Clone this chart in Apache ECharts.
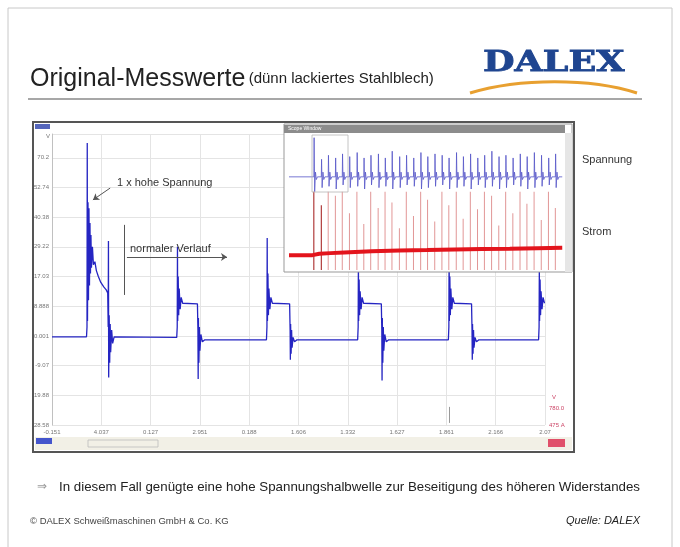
<!DOCTYPE html>
<html><head><meta charset="utf-8">
<script src="https://cdn.jsdelivr.net/npm/echarts@6/dist/echarts.min.js"></script>
<style>html,body{margin:0;padding:0;background:#fff}#c{width:680px;height:547px}</style>
</head><body><div id="c"></div>
<script>
// ---- tick labels (oscilloscope screen, main window) ----
const xTickLabels = ["-0.151","4.037","0.127","2.951","0.188","1.606","1.332","1.627","1.861","2.166","2.07"];
const yTickLabels = ["-28.58","-19.88","-9.07","0.001","8.888","17.03","29.22","40.38","52.74","70.2"]; // divisions -3..6

// ---- main voltage trace (time in divisions, voltage in divisions) ----
const mainT = [0,0.70,0.71,0.715,0.72,0.73,0.74,0.75,0.76,0.77,0.78,0.79,0.80,0.82,0.84,0.87,0.90,0.94,0.99,1.05,1.10,1.13,1.14,1.145,1.15,1.16,1.17,1.18,1.19,1.21,1.23,1.26,
  2.53,2.54,2.545,2.55,2.56,2.57,2.58,2.60,2.62,2.65,2.95,2.96,2.965,2.97,2.98,2.99,3.00,3.02,3.05,3.10,
  4.35,4.36,4.365,4.37,4.38,4.39,4.40,4.42,4.44,4.47,4.82,4.83,4.835,4.84,4.85,4.86,4.87,4.89,4.92,4.97,
  6.20,6.21,6.215,6.22,6.23,6.24,6.25,6.27,6.29,6.32,6.68,6.69,6.695,6.70,6.71,6.72,6.73,6.75,6.78,6.83,
  8.04,8.05,8.055,8.06,8.07,8.08,8.09,8.11,8.13,8.16,8.51,8.52,8.525,8.53,8.54,8.55,8.56,8.58,8.61,8.66,
  9.87,9.88,9.885,9.89,9.90,9.91,9.92,9.94,9.96,9.99,10.0];
const mainV = [-0.03,-0.03,0.3,6.5,0.5,4.5,1.2,4.3,1.7,3.8,2.1,3.4,2.3,3.0,2.4,2.5,2.2,2.0,1.8,1.65,1.55,1.45,0.3,3.2,-1.4,0.7,-0.9,0.4,-0.55,0.2,-0.25,-0.03,
  -0.05,0.3,3.0,0.5,2.0,0.7,1.6,0.9,1.3,1.1,1.08,0.2,-1.45,0.6,-0.9,0.3,-0.5,0.05,-0.2,-0.13,
  -0.13,0.3,3.3,0.5,2.1,0.7,1.6,0.9,1.3,1.1,1.08,0.2,-0.8,0.4,-0.6,0.2,-0.4,-0.05,-0.2,-0.13,
  -0.13,0.3,2.6,0.5,1.9,0.7,1.5,0.9,1.3,1.1,1.08,0.2,-1.5,0.6,-0.9,0.3,-0.5,0.05,-0.2,-0.13,
  -0.13,0.3,3.1,0.5,2.0,0.7,1.6,0.9,1.3,1.1,1.08,0.2,-0.8,0.4,-0.6,0.2,-0.4,-0.05,-0.2,-0.13,
  -0.13,0.3,2.3,0.5,1.9,0.7,1.5,0.9,1.3,1.1,1.1];

// ---- inset (scope window): voltage spikes and current ----
const insetT   = [9.0,11.7,14.2,16.8,19.3,21.9,24.6,27.1,29.6,32.3,34.8,37.3,40.0,42.5,45.1,47.7,50.2,52.8,55.4,57.9,60.6,63.1,65.7,68.3,70.8,73.4,76.0,78.5,81.1,83.7,86.2,88.8,91.4,94.0,96.5];
const insetTop = [9.8,8.2,8.5,8.3,8.6,8.4,8.7,8.3,8.5,8.6,8.3,8.8,8.4,8.5,8.3,8.7,8.4,8.6,8.5,8.3,8.7,8.4,8.6,8.3,8.5,8.8,8.4,8.5,8.3,8.6,8.4,8.7,8.5,8.3,8.6];
const insetLow = [5.8,6.1,6.2,6.0,6.3,6.1,6.2,6.0,6.3,6.1,6.2,6.0,6.1,6.3,6.2,6.0,6.1,6.2,6.3,6.0,6.1,6.2,6.0,6.3,6.1,6.2,6.0,6.1,6.3,6.2,6.0,6.1,6.2,6.3,6.1];
const insetBase = 6.9;
const insetCurTop = [5.8,4.8,5.8,5.5,5.8,4.2,5.8,3.4,5.8,4.6,5.8,5.0,3.1,5.8,4.0,5.8,5.2,3.6,5.8,4.8,5.8,3.8,5.8,4.5,5.8,5.5,3.3,5.8,4.2,5.8,4.9,5.8,3.7,5.8,4.6];
const curT = [0,8.5,9.2,11,15,20,30,40,50,60,70,80,90,99];
const curV = [1.1,1.1,1.0,1.2,1.25,1.3,1.38,1.45,1.48,1.52,1.55,1.58,1.62,1.65];

// ---- build series data ----
const mainData = mainT.map((t,i)=>[t, mainV[i]]);
const insetVolt = [[0, insetBase]];
insetT.forEach((t,i)=>{
  insetVolt.push([t, insetBase],[t+0.1, insetTop[i]],[t+0.3, insetLow[i]],[t+0.6, insetBase+0.35],[t+0.9, insetBase-0.2],[t+1.3, insetBase]);
});
insetVolt.push([99, insetBase]);
const insetBars = insetT.map((t,i)=> i<2 ? {value:[t, insetCurTop[i]], itemStyle:{color:'#a01515'}} : [t, insetCurTop[i]]);
const curData = curT.map((t,i)=>[t, curV[i]]);

const chart = echarts.init(document.getElementById('c'), null, {renderer:'canvas'});
const F = '"Liberation Sans", Arial, sans-serif';
const txt = (text, x, y, size, fill, extra) => ({type:'text', z:30, style:Object.assign({text, x, y, font: size+'px '+F, fill, textVerticalAlign:'middle'}, extra||{})});

chart.setOption({
  animation:false,
  grid:[
    {left:52, top:134, width:493, height:291, show:false},
    {left:289, top:135, width:276, height:135, show:false, z:15}
  ],
  xAxis:[
    {type:'value', gridIndex:0, min:0, max:10, interval:1,
     axisLine:{show:false}, axisTick:{show:false},
     splitLine:{show:true, lineStyle:{color:'#e4e4e4', width:1}},
     axisLabel:{formatter:v=>xTickLabels[Math.round(v)]||'', fontSize:6, color:'#777', margin:4, fontFamily:F}},
    {type:'value', gridIndex:1, min:0, max:100, show:false}
  ],
  yAxis:[
    {type:'value', gridIndex:0, min:-3, max:6.8, interval:1,
     axisLine:{show:true, lineStyle:{color:'#c0c0c0'}}, axisTick:{show:false},
     splitLine:{show:true, lineStyle:{color:'#e4e4e4', width:1}},
     axisLabel:{formatter:v=>{const s=yTickLabels[Math.round(v)+3]; return (Math.abs(v-Math.round(v))<1e-6 && s)? s : '';}, fontSize:6, color:'#777', margin:3, fontFamily:F}},
    {type:'value', gridIndex:1, min:0, max:10, show:false}
  ],
  series:[
    {type:'line', name:'Spannung', xAxisIndex:0, yAxisIndex:0, data:mainData, showSymbol:false, z:2,
     lineStyle:{color:'#2525c2', width:1.3},
     markLine:{silent:true, animation:false, label:{show:false}, symbolSize:6,
       lineStyle:{color:'#555', width:1, type:'solid'},
       data:[
         [{coord:[1.18,4.98], symbol:'none'},{coord:[0.83,4.58], symbol:'arrow'}],
         [{coord:[1.46,3.74], symbol:'none'},{coord:[1.46,1.38], symbol:'none'}],
         [{coord:[1.52,2.66], symbol:'none'},{coord:[3.55,2.66], symbol:'arrow'}],
         [{coord:[8.05,-2.39], symbol:'none', lineStyle:{color:'#999'}},{coord:[8.05,-2.93], symbol:'none'}]
       ]}
    },
    {type:'bar', name:'Strom-Impulse', xAxisIndex:1, yAxisIndex:1, data:insetBars, barWidth:1, z:20,
     itemStyle:{color:'rgba(205,80,80,0.6)'}},
    {type:'line', name:'Spannung (Übersicht)', xAxisIndex:1, yAxisIndex:1, data:insetVolt, showSymbol:false, z:21,
     lineStyle:{color:'#5656c8', width:0.8}},
    {type:'line', name:'Strom', xAxisIndex:1, yAxisIndex:1, data:curData, showSymbol:false, z:22,
     lineStyle:{color:'#e3141c', width:4}}
  ],
  graphic:[
    {type:'rect', z:0, shape:{x:8,y:8,width:664,height:600}, style:{fill:'none', stroke:'#c8c8c8', lineWidth:1}},
    {type:'text', z:30, style:{x:30, y:79, textVerticalAlign:'middle',
      text:'{a|Original-Messwerte} {b|(dünn lackiertes Stahlblech)}',
      rich:{a:{font:'25px '+F, fill:'#222'}, b:{font:'15px '+F, fill:'#222'}}}},
    {type:'line', z:30, shape:{x1:28,y1:99,x2:642,y2:99}, style:{stroke:'#8a8a8a', lineWidth:1.5}},
    {type:'text', z:30, scaleX:1.3, originX:483, originY:64, style:{x:483, y:64, text:'DALEX', textVerticalAlign:'middle', font:'bold 28px "DejaVu Serif", serif', fill:'#1f4590', stroke:'#1f4590', lineWidth:0.8}},
    {type:'bezierCurve', z:30, shape:{x1:470,y1:93,x2:637,y2:93,cpx1:520,cpy1:78,cpx2:590,cpy2:78}, style:{stroke:'#e8a030', lineWidth:3, fill:'none'}},
    // oscilloscope window frame
    {type:'rect', z:1, shape:{x:33,y:122,width:541,height:330}, style:{fill:'none', stroke:'#555', lineWidth:2}},
    {type:'rect', z:1, shape:{x:35,y:124,width:15,height:5}, style:{fill:'#5566bb'}},
    {type:'rect', z:1, shape:{x:35,y:437,width:537,height:13}, style:{fill:'#f2f0e6'}},
    {type:'rect', z:1, shape:{x:36,y:438,width:16,height:6}, style:{fill:'#4455cc'}},
    {type:'rect', z:1, shape:{x:88,y:440,width:70,height:7}, style:{fill:'none', stroke:'#bbb', lineWidth:0.8}},
    {type:'rect', z:1, shape:{x:548,y:439,width:17,height:8}, style:{fill:'#e0506a'}},
    txt('V', 552, 397, 6, '#cc4466'),
    txt('780.0', 549, 408, 6, '#cc4466'),
    txt('475 A', 549, 425, 6, '#cc4466'),
    txt('V', 46, 136, 6, '#777'),
    // inset scope window
    {type:'rect', z:10, shape:{x:284,y:124,width:288,height:148}, style:{fill:'#fff', stroke:'#999', lineWidth:1}},
    {type:'rect', z:11, shape:{x:284,y:125,width:281,height:8}, style:{fill:'#8c8c8c'}},
    {type:'rect', z:11, shape:{x:565,y:133,width:7,height:139}, style:{fill:'#e6e6e6'}},
    txt('Scope Window', 288, 129, 5, '#fff'),
    {type:'rect', z:25, shape:{x:312,y:135,width:36,height:57}, style:{fill:'none', stroke:'#b5b5b5', lineWidth:0.8}},
    // annotations
    txt('1 x hohe Spannung', 117, 183, 11, '#333'),
    txt('normaler Verlauf', 130, 249, 11, '#333'),
    txt('Spannung', 582, 160, 11, '#333'),
    txt('Strom', 582, 232, 11, '#333'),
    // footer
    txt('⇒', 37, 487, 12, '#999'),
    txt('In diesem Fall genügte eine hohe Spannungshalbwelle zur Beseitigung des höheren Widerstandes', 59, 487, 13.3, '#222'),
    txt('© DALEX Schweißmaschinen GmbH & Co. KG', 30, 521, 9.5, '#444'),
    txt('Quelle: DALEX', 640, 521, 11, '#222', {textAlign:'right', font:'italic 11px '+F})
  ]
});
</script></body></html>
